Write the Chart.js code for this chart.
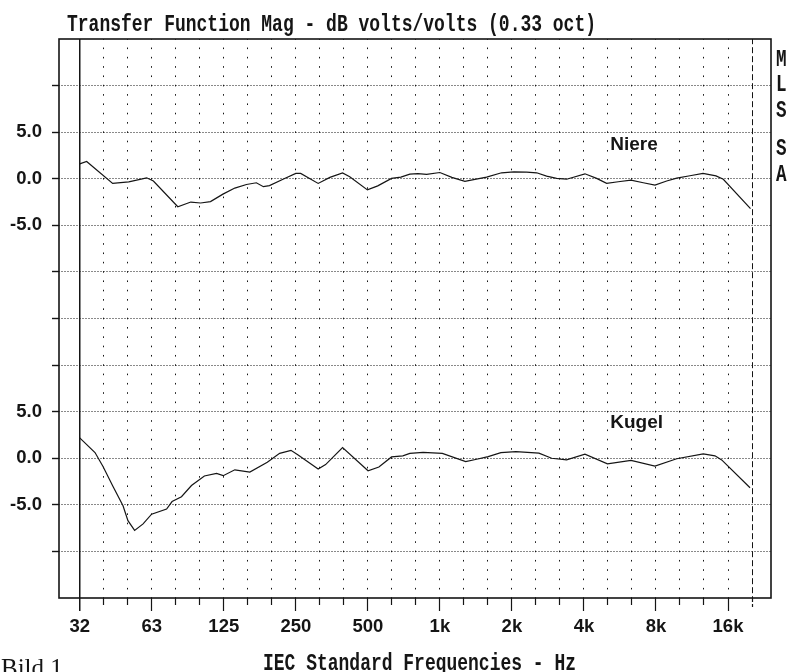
<!DOCTYPE html>
<html>
<head>
<meta charset="utf-8">
<script src="https://cdn.jsdelivr.net/npm/chart.js@4.4.1/dist/chart.umd.min.js"></script>
<style>
html,body{margin:0;padding:0;background:#fff;}
#wrap{position:relative;width:789px;height:672px;overflow:hidden;}
canvas{display:block;}
</style>
</head>
<body>
<div id="wrap"><canvas id="c" width="789" height="672"></canvas></div>
<script>
// ---- DATA ----
// Upper curve "Niere": frequency (Hz) and magnitude (dB)
const niereFreq = [31.25, 33.4, 42.9, 50.1, 59.5, 63.5, 80.3, 91, 100, 110, 124, 139, 155.5, 171, 183, 194, 221, 250, 262, 310, 347, 392, 420, 498, 550, 628, 687, 749, 810, 880, 1000, 1122, 1272, 1401, 1568, 1811, 2039, 2304, 2537, 2793, 3075, 3386, 4039, 4520, 4976, 5564, 6289, 7080, 7923, 8868, 9766, 11096, 12577, 14256, 15294, 19870];
const niereDb   = [1.6, 1.85, -0.5, -0.33, 0.1, -0.25, -3.0, -2.5, -2.6, -2.45, -1.65, -1.0, -0.62, -0.43, -0.85, -0.74, -0.06, 0.57, 0.57, -0.5, 0.15, 0.63, 0.21, -1.2, -0.76, 0.04, 0.18, 0.5, 0.55, 0.48, 0.67, 0.15, -0.28, -0.06, 0.18, 0.64, 0.74, 0.71, 0.64, 0.29, 0.04, -0.05, 0.53, 0.04, -0.49, -0.32, -0.14, -0.43, -0.69, -0.24, 0.07, 0.32, 0.57, 0.31, -0.06, -3.2];

// Lower curve "Kugel": frequency (Hz) and magnitude (dB)
const kugelFreq = [31.25, 36.2, 39.1, 43.0, 47.4, 49.7, 53.0, 57.5, 62.4, 72.1, 76.0, 83.2, 91.6, 103.7, 116.6, 124.3, 139, 160.6, 190, 214, 238.6, 255.6, 310, 333, 392, 501, 556, 628, 700, 749, 851, 1024, 1282, 1424, 1592, 1799, 2079, 2594, 2931, 3386, 4039, 5015, 6289, 7923, 9766, 12614, 14114, 15057, 19780];
const kugelDb   = [2.18, 0.61, -0.89, -3.0, -5.1, -6.7, -7.75, -7.05, -6.0, -5.45, -4.65, -4.13, -2.93, -1.9, -1.63, -1.87, -1.24, -1.48, -0.44, 0.53, 0.85, 0.35, -1.15, -0.68, 1.14, -1.34, -0.94, 0.14, 0.26, 0.53, 0.63, 0.53, -0.36, -0.11, 0.17, 0.6, 0.72, 0.55, 0, -0.18, 0.44, -0.6, -0.22, -0.85, -0.05, 0.46, 0.26, -0.18, -3.17];

// Octave tick labels (IEC nominal) and labelled dB values of each curve
const xTickLabels = ['32', '63', '125', '250', '500', '1k', '2k', '4k', '8k', '16k'];
const yLabelValues = [5, 0, -5];
const yTickLabels = ['5.0', '0.0', '-5.0'];

const titleText = 'Transfer Function Mag - dB volts/volts (0.33 oct)';
const xTitleText = 'IEC Standard Frequencies - Hz';
const sideText = ['M', 'L', 'S', 'S', 'A'];
const curveNames = ['Niere', 'Kugel'];
const captionText = 'Bild 1';

// ---- axis construction ----
const NIERE_RANGE = [-45, 15];   // upper trace sits in the top part of the frame
const KUGEL_RANGE = [-15, 45];   // lower trace sits in the bottom part
const KUGEL_SHIFT = KUGEL_RANGE[0] - NIERE_RANGE[0];
// 1/3-octave grid from the 32 Hz band up to the 20 kHz band
const thirdOctaves = [];
for (let k = 0; k <= 28; k++) thirdOctaves.push(1000 * Math.pow(2, k / 3 - 5));

const INK = '#151515';
const SANS = '"Liberation Sans", Arial, sans-serif';
const MONO = '"Liberation Mono", "DejaVu Sans Mono", monospace';

// monospace text stretched to a given width and cap height (terminal-style lettering)
function stretchedText(ctx, text, x, baseline, size, sy, width) {
  ctx.save();
  ctx.font = 'bold ' + size + 'px ' + MONO;
  const w = ctx.measureText(text).width;
  const sx = width ? width / w : 1;
  ctx.translate(x, baseline);
  ctx.scale(sx, sy);
  ctx.textAlign = 'left';
  ctx.textBaseline = 'alphabetic';
  ctx.fillStyle = INK;
  ctx.fillText(text, 0, 0);
  ctx.restore();
}

const decor = {
  id: 'decor',
  beforeDraw(chart) {
    const ctx = chart.ctx;
    ctx.save();
    ctx.fillStyle = '#fff';
    ctx.fillRect(0, 0, chart.width, chart.height);
    ctx.restore();
  },
  afterDatasetsDraw(chart) {
    const ctx = chart.ctx;
    const xs = chart.scales.x, yn = chart.scales.y, yk = chart.scales.yK;
    ctx.save();
    ctx.fillStyle = INK;
    ctx.font = 'bold 19px ' + SANS;
    ctx.textAlign = 'left';
    ctx.textBaseline = 'middle';
    ctx.fillText(curveNames[0], xs.getPixelForValue(5150), yn.getPixelForValue(3.6));
    ctx.fillText(curveNames[1], xs.getPixelForValue(5150), yk.getPixelForValue(3.8));
    ctx.restore();
  },
  afterDraw(chart) {
    const ctx = chart.ctx;
    const a = chart.chartArea;
    ctx.save();
    ctx.strokeStyle = INK;
    ctx.lineWidth = 1.6;
    ctx.strokeRect(a.left, a.top, a.right - a.left, a.bottom - a.top);
    ctx.restore();

    stretchedText(ctx, titleText, 67, 30.7, 17.6, 1.38, 529);
    stretchedText(ctx, xTitleText, 263, 669.5, 17.9, 1.38, 313);
    const sideY = [65.5, 90.5, 116.5, 155, 181];
    sideText.forEach((ch, i) => stretchedText(ctx, ch, 776, sideY[i], 17.6, 1.38));

    ctx.save();
    ctx.fillStyle = INK;
    ctx.font = '25px "Liberation Serif", serif';
    ctx.textBaseline = 'alphabetic';
    ctx.fillText(captionText, 1, 676);
    ctx.restore();
  }
};

const nData = niereFreq.map((f, i) => ({ x: f, y: niereDb[i] }));
const kData = kugelFreq.map((f, i) => ({ x: f, y: kugelDb[i] }));

const lastIdx = thirdOctaves.length - 1;

new Chart(document.getElementById('c'), {
  type: 'line',
  data: {
    datasets: [
      { label: curveNames[0], data: nData, yAxisID: 'y', borderColor: INK, borderWidth: 1.2, pointRadius: 0, tension: 0, fill: false },
      { label: curveNames[1], data: kData, yAxisID: 'yK', borderColor: INK, borderWidth: 1.2, pointRadius: 0, tension: 0, fill: false }
    ]
  },
  options: {
    responsive: false,
    devicePixelRatio: 1,
    animation: false,
    events: [],
    layout: { padding: { top: 39, right: 18, left: 0, bottom: 0 } },
    plugins: { legend: { display: false }, tooltip: { enabled: false }, title: { display: false } },
    scales: {
      x: {
        type: 'logarithmic',
        position: 'bottom',
        min: 25.6,
        max: 24200,
        afterBuildTicks: (s) => { s.ticks = thirdOctaves.map(v => ({ value: v })); },
        afterFit: (s) => { s.height = 74; },
        ticks: {
          autoSkip: false, maxRotation: 0, minRotation: 0, padding: 5,
          color: INK,
          font: { family: SANS, weight: 'bold', size: 18.5 },
          callback: (v, i) => (i % 3 === 0 && xTickLabels[i / 3] !== undefined) ? xTickLabels[i / 3] : ''
        },
        grid: {
          color: INK,
          lineWidth: (c) => c.index === 0 ? 1.5 : 1,
          tickLength: 13,
          tickColor: INK,
          tickWidth: (c) => c.index === 0 ? 1.5 : 1.2,
          tickBorderDash: (c) => {
            if (c.index === lastIdx) return [4, 2, 3, 60];
            return c.index % 3 === 0 ? [] : [7, 60];
          }
        },
        border: {
          display: false,
          dash: (c) => {
            if (c.index === 0) return [];
            if (c.index === lastIdx) return [6, 3];
            const h = c.chart.chartArea ? (c.chart.chartArea.bottom - c.chart.chartArea.top) : 559;
            const step = h / 60;
            return [1.6, step - 1.6];
          },
          dashOffset: 0.8
        }
      },
      y: {
        type: 'linear',
        position: 'left',
        min: NIERE_RANGE[0],
        max: NIERE_RANGE[1],
        afterFit: (s) => { s.width = 59; },
        ticks: {
          stepSize: 5, autoSkip: false, padding: 10,
          color: INK,
          font: { family: SANS, weight: 'bold', size: 18.5 },
          callback: (v) => {
            let i = yLabelValues.indexOf(v);
            if (i >= 0) return yTickLabels[i];
            i = yLabelValues.indexOf(v + KUGEL_SHIFT);
            if (i >= 0) return yTickLabels[i];
            return '';
          }
        },
        grid: {
          color: (c) => (c.tick && (c.tick.value === NIERE_RANGE[0] || c.tick.value === NIERE_RANGE[1])) ? 'rgba(0,0,0,0)' : INK,
          tickColor: (c) => (c.tick && (c.tick.value === NIERE_RANGE[0] || c.tick.value === NIERE_RANGE[1])) ? 'rgba(0,0,0,0)' : INK,
          lineWidth: 1,
          tickLength: 7,
          tickWidth: 1.4,
          tickBorderDash: []
        },
        border: { display: false, dash: [1, 2], dashOffset: 0.5 }
      },
      yK: {
        type: 'linear',
        display: false,
        position: 'left',
        min: KUGEL_RANGE[0],
        max: KUGEL_RANGE[1],
        grid: { display: false }
      }
    }
  },
  plugins: [decor]
});
</script>
</body>
</html>
